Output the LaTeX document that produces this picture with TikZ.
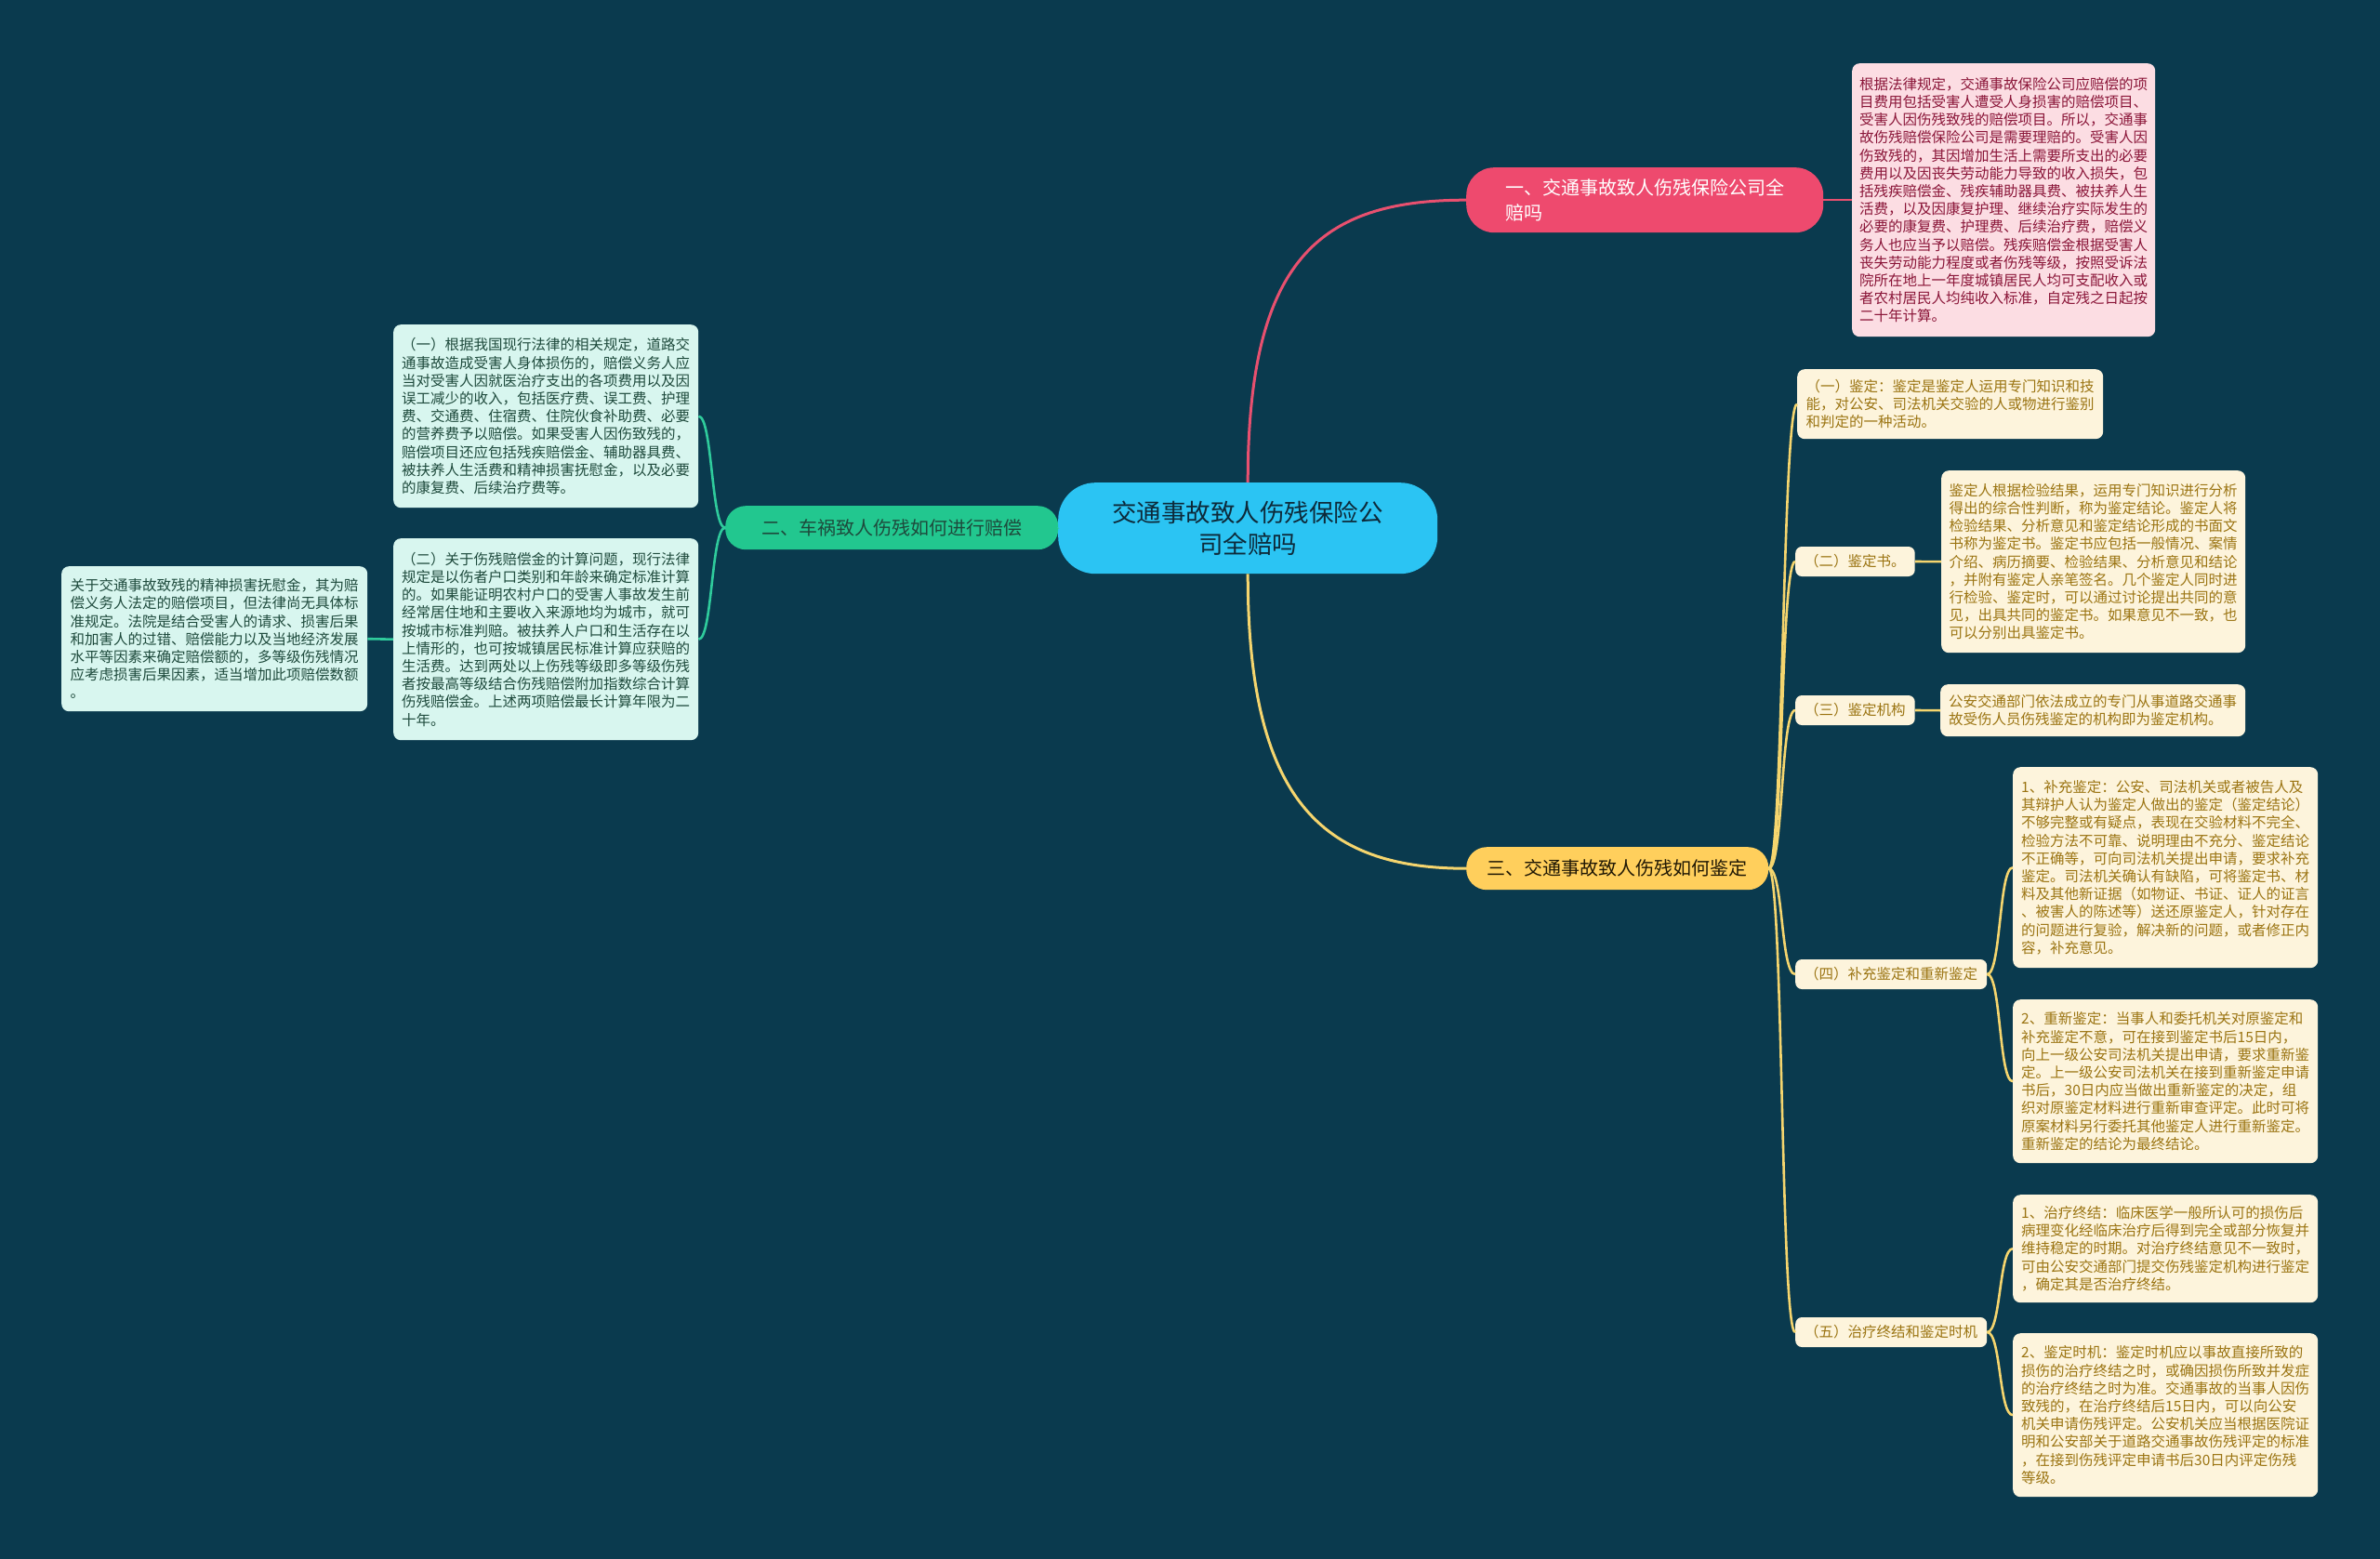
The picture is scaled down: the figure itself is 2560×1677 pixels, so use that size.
\documentclass[tikz,border=0pt]{standalone}
\usepackage{fontspec}
\setmainfont{Noto Sans CJK SC}
\newfontfamily\cjk{Noto Sans CJK SC}
\definecolor{bg}{HTML}{0A3A4E}
\definecolor{centerfill}{HTML}{2BC4F3}
\definecolor{centertext}{HTML}{0D2A3A}
\definecolor{pinkmain}{HTML}{EE4A6E}
\definecolor{greenmain}{HTML}{22C78F}
\definecolor{yellowmain}{HTML}{FFCF5C}
\definecolor{pinkfill}{HTML}{FCDDE3}
\definecolor{pinktext}{HTML}{8A1538}
\definecolor{greenfill}{HTML}{D8F6EF}
\definecolor{greentext}{HTML}{1E4A3C}
\definecolor{yellowfill}{HTML}{FDF4DC}
\definecolor{yellowtext}{HTML}{9B7412}
\definecolor{pinkline}{HTML}{E8506F}
\definecolor{greenline}{HTML}{2FCB9C}
\definecolor{yellowline}{HTML}{F5D56E}
\begin{document}
\begin{tikzpicture}[x=1pt,y=-1pt,
  detail/.style={rounded corners=8pt, align=left, anchor=north west, inner sep=0pt,
    font=\cjk\fontsize{15.5}{19.2}\selectfont},
  pinkbox/.style={detail, fill=pinkfill, text=pinktext},
  greenbox/.style={detail, fill=greenfill, text=greentext},
  yellowbox/.style={detail, fill=yellowfill, text=yellowtext},
  sublabel/.style={rounded corners=7pt, anchor=west, fill=yellowfill, text=yellowtext,
    inner xsep=10pt, inner ysep=0pt, minimum height=32pt, font=\cjk\fontsize{15.5}{19.2}\selectfont},
  branch/.style={anchor=north west, inner sep=0pt, align=left, font=\cjk\fontsize{20}{27}\selectfont},
  pline/.style={draw=pinkline, line width=3pt},
  gline/.style={draw=greenline, line width=2.6pt},
  yline/.style={draw=yellowline, line width=2.6pt}
]
\fill[bg] (0,0) rectangle (2560,1677);
\useasboundingbox (0,0) rectangle (2560,1677);

% center
\node[anchor=north west, fill=centerfill, text=centertext, rounded corners=40pt,
  minimum width=408pt, minimum height=98pt, inner sep=0pt, align=center,
  font=\cjk\fontsize{26.5}{34}\selectfont] (c) at (1138,519) {交通事故致人伤残保险公\\司全赔吗};

% main branches
\node[branch, fill=pinkmain, text=white, rounded corners=30pt, minimum width=384pt, minimum height=70pt]
  (b1) at (1577,180) {一、交通事故致人伤残保险公司全\\赔吗};
\node[branch, fill=greenmain, text=greentext, rounded corners=22pt, minimum width=358pt, minimum height=47pt]
  (b2) at (780,544) {二、车祸致人伤残如何进行赔偿};
\node[branch, fill=yellowmain, text=black!80!yellowtext, rounded corners=22pt, minimum width=325pt, minimum height=46pt]
  (b3) at (1577,911) {三、交通事故致人伤残如何鉴定};

% pink detail
\node[pinkbox, minimum width=326pt, minimum height=294pt] (p1) at (1992,68) {根据法律规定，交通事故保险公司应赔偿的项\\
目费用包括受害人遭受人身损害的赔偿项目、\\
受害人因伤残致残的赔偿项目。所以，交通事\\
故伤残赔偿保险公司是需要理赔的。受害人因\\
伤致残的，其因增加生活上需要所支出的必要\\
费用以及因丧失劳动能力导致的收入损失，包\\
括残疾赔偿金、残疾辅助器具费、被扶养人生\\
活费，以及因康复护理、继续治疗实际发生的\\
必要的康复费、护理费、后续治疗费，赔偿义\\
务人也应当予以赔偿。残疾赔偿金根据受害人\\
丧失劳动能力程度或者伤残等级，按照受诉法\\
院所在地上一年度城镇居民人均可支配收入或\\
者农村居民人均纯收入标准，自定残之日起按\\
二十年计算。};

% green details
\node[greenbox, minimum width=328pt, minimum height=197pt] (g1) at (423,349) {（一）根据我国现行法律的相关规定，道路交\\
通事故造成受害人身体损伤的，赔偿义务人应\\
当对受害人因就医治疗支出的各项费用以及因\\
误工减少的收入，包括医疗费、误工费、护理\\
费、交通费、住宿费、住院伙食补助费、必要\\
的营养费予以赔偿。如果受害人因伤致残的，\\
赔偿项目还应包括残疾赔偿金、辅助器具费、\\
被扶养人生活费和精神损害抚慰金，以及必要\\
的康复费、后续治疗费等。};
\node[greenbox, minimum width=328pt, minimum height=217pt] (g2) at (423,579) {（二）关于伤残赔偿金的计算问题，现行法律\\
规定是以伤者户口类别和年龄来确定标准计算\\
的。如果能证明农村户口的受害人事故发生前\\
经常居住地和主要收入来源地均为城市，就可\\
按城市标准判赔。被扶养人户口和生活存在以\\
上情形的，也可按城镇居民标准计算应获赔的\\
生活费。达到两处以上伤残等级即多等级伤残\\
者按最高等级结合伤残赔偿附加指数综合计算\\
伤残赔偿金。上述两项赔偿最长计算年限为二\\
十年。};
\node[greenbox, minimum width=329pt, minimum height=156pt] (g3) at (66,609) {关于交通事故致残的精神损害抚慰金，其为赔\\
偿义务人法定的赔偿项目，但法律尚无具体标\\
准规定。法院是结合受害人的请求、损害后果\\
和加害人的过错、赔偿能力以及当地经济发展\\
水平等因素来确定赔偿额的，多等级伤残情况\\
应考虑损害后果因素，适当增加此项赔偿数额\\
。};

% yellow sub items
\node[yellowbox, minimum width=329pt, minimum height=75pt] (y1) at (1933,397) {（一）鉴定：鉴定是鉴定人运用专门知识和技\\
能，对公安、司法机关交验的人或物进行鉴别\\
和判定的一种活动。};
\node[sublabel] (y2) at (1931,604) {（二）鉴定书。};
\node[sublabel] (y3) at (1931,764) {（三）鉴定机构};
\node[sublabel] (y4) at (1931,1048) {（四）补充鉴定和重新鉴定};
\node[sublabel] (y5) at (1931,1433) {（五）治疗终结和鉴定时机};

\node[yellowbox, minimum width=327pt, minimum height=196pt] (d2) at (2088,506) {鉴定人根据检验结果，运用专门知识进行分析\\
得出的综合性判断，称为鉴定结论。鉴定人将\\
检验结果、分析意见和鉴定结论形成的书面文\\
书称为鉴定书。鉴定书应包括一般情况、案情\\
介绍、病历摘要、检验结果、分析意见和结论\\
，并附有鉴定人亲笔签名。几个鉴定人同时进\\
行检验、鉴定时，可以通过讨论提出共同的意\\
见，出具共同的鉴定书。如果意见不一致，也\\
可以分别出具鉴定书。};
\node[yellowbox, minimum width=328pt, minimum height=56pt] (d3) at (2087,736) {公安交通部门依法成立的专门从事道路交通事\\
故受伤人员伤残鉴定的机构即为鉴定机构。};
\node[yellowbox, minimum width=328pt, minimum height=216pt] (d41) at (2165,825) {1、补充鉴定：公安、司法机关或者被告人及\\
其辩护人认为鉴定人做出的鉴定（鉴定结论）\\
不够完整或有疑点，表现在交验材料不完全、\\
检验方法不可靠、说明理由不充分、鉴定结论\\
不正确等，可向司法机关提出申请，要求补充\\
鉴定。司法机关确认有缺陷，可将鉴定书、材\\
料及其他新证据（如物证、书证、证人的证言\\
、被害人的陈述等）送还原鉴定人，针对存在\\
的问题进行复验，解决新的问题，或者修正内\\
容，补充意见。};
\node[yellowbox, minimum width=328pt, minimum height=176pt] (d42) at (2165,1075) {2、重新鉴定：当事人和委托机关对原鉴定和\\
补充鉴定不意，可在接到鉴定书后15日内，\\
向上一级公安司法机关提出申请，要求重新鉴\\
定。上一级公安司法机关在接到重新鉴定申请\\
书后，30日内应当做出重新鉴定的决定，组\\
织对原鉴定材料进行重新审查评定。此时可将\\
原案材料另行委托其他鉴定人进行重新鉴定。\\
重新鉴定的结论为最终结论。};
\node[yellowbox, minimum width=328pt, minimum height=116pt] (d51) at (2165,1285) {1、治疗终结：临床医学一般所认可的损伤后\\
病理变化经临床治疗后得到完全或部分恢复并\\
维持稳定的时期。对治疗终结意见不一致时，\\
可由公安交通部门提交伤残鉴定机构进行鉴定\\
，确定其是否治疗终结。};
\node[yellowbox, minimum width=328pt, minimum height=176pt] (d52) at (2165,1434) {2、鉴定时机：鉴定时机应以事故直接所致的\\
损伤的治疗终结之时，或确因损伤所致并发症\\
的治疗终结之时为准。交通事故的当事人因伤\\
致残的，在治疗终结后15日内，可以向公安\\
机关申请伤残评定。公安机关应当根据医院证\\
明和公安部关于道路交通事故伤残评定的标准\\
，在接到伤残评定申请书后30日内评定伤残\\
等级。};

% connectors
\begin{scope}[on background layer/.style={}]
\end{scope}
\draw[pline] (c.north) .. controls +(0,-241) and +(-157,0) .. (b1.west);
\draw[yline, line width=3pt] (c.south) .. controls +(0,241) and +(-157,0) .. (b3.west);
\draw[gline] (c.west) -- (b2.east);
\draw[pline, line width=2.6pt] (b1.east) -- (p1.west);
\draw[gline] (b2.west) .. controls +(-15,0) and +(15,0) .. (g1.east);
\draw[gline] (b2.west) .. controls +(-15,0) and +(15,0) .. (g2.east);
\draw[gline] (g2.west) -- (g3.east);
\foreach \t in {y1,y2,y3,y4,y5}{
  \draw[yline] (b3.east) .. controls +(16,0) and +(-16,0) .. (\t.west);
}
\draw[yline] (y2.east) -- (d2.west);
\draw[yline] (y3.east) -- (d3.west);
\draw[yline] (y4.east) .. controls +(15,0) and +(-15,0) .. (d41.west);
\draw[yline] (y4.east) .. controls +(15,0) and +(-15,0) .. (d42.west);
\draw[yline] (y5.east) .. controls +(15,0) and +(-15,0) .. (d51.west);
\draw[yline] (y5.east) .. controls +(15,0) and +(-15,0) .. (d52.west);
\end{tikzpicture}
\end{document}
